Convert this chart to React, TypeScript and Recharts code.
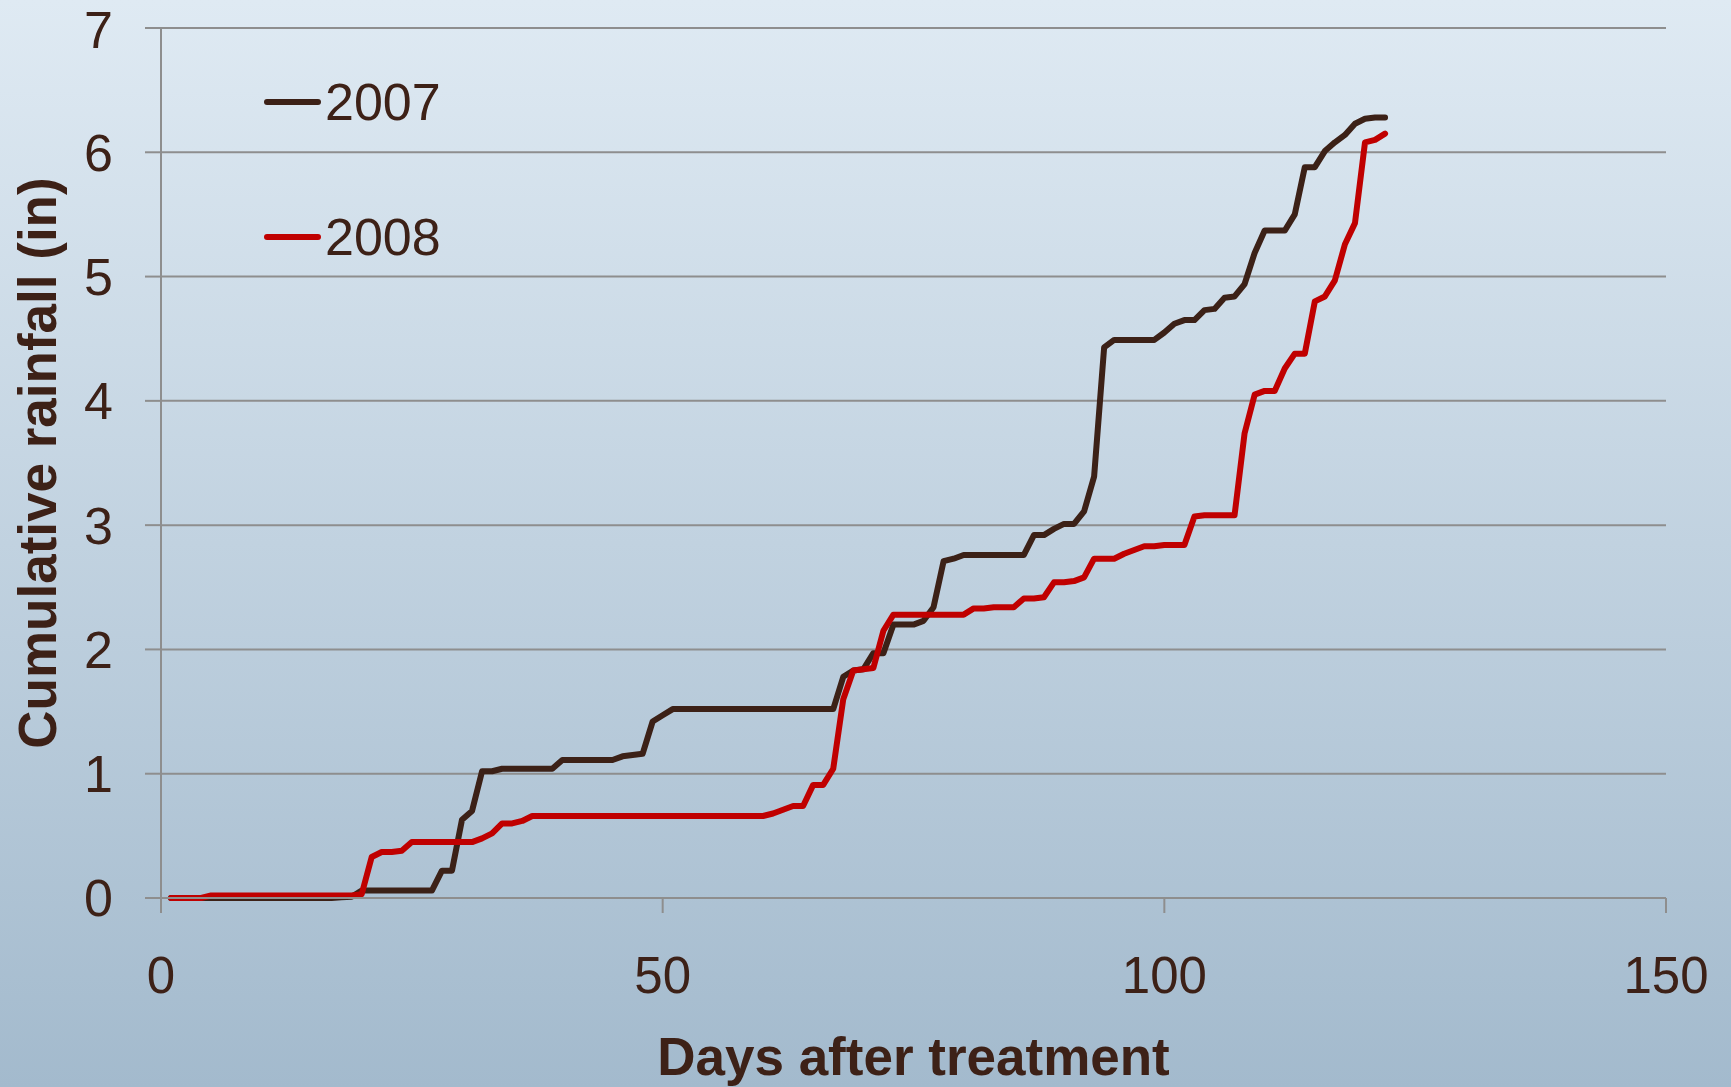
import React from 'react';
import { LineChart, Line, XAxis, YAxis, CartesianGrid, Legend } from 'recharts';

const days: number[] = Array.from({ length: 122 }, (_, i) => i + 1);

const rain2007: number[] = [
  0, 0, 0, 0, 0, 0, 0, 0, 0, 0,
  0, 0, 0, 0, 0, 0, 0, 0.005, 0.01, 0.06,
  0.06, 0.06, 0.06, 0.06, 0.06, 0.06, 0.06, 0.22, 0.22, 0.63,
  0.70, 1.02, 1.02, 1.04, 1.04, 1.04, 1.04, 1.04, 1.04, 1.11,
  1.11, 1.11, 1.11, 1.11, 1.11, 1.14, 1.15, 1.16, 1.42, 1.47,
  1.52, 1.52, 1.52, 1.52, 1.52, 1.52, 1.52, 1.52, 1.52, 1.52,
  1.52, 1.52, 1.52, 1.52, 1.52, 1.52, 1.52, 1.78, 1.83, 1.84,
  1.97, 1.97, 2.20, 2.20, 2.20, 2.23, 2.34, 2.71, 2.73, 2.76,
  2.76, 2.76, 2.76, 2.76, 2.76, 2.76, 2.92, 2.92, 2.97, 3.01,
  3.01, 3.11, 3.39, 4.43, 4.49, 4.49, 4.49, 4.49, 4.49, 4.55,
  4.62, 4.65, 4.65, 4.73, 4.74, 4.83, 4.84, 4.94, 5.19, 5.37,
  5.37, 5.37, 5.50, 5.88, 5.88, 6.01, 6.08, 6.14, 6.23, 6.27,
  6.28, 6.28,
];

const rain2008: number[] = [
  0, 0, 0, 0, 0.02, 0.02, 0.02, 0.02, 0.02, 0.02,
  0.02, 0.02, 0.02, 0.02, 0.02, 0.02, 0.02, 0.02, 0.02, 0.03,
  0.33, 0.37, 0.37, 0.38, 0.45, 0.45, 0.45, 0.45, 0.45, 0.45,
  0.45, 0.48, 0.52, 0.60, 0.60, 0.62, 0.66, 0.66, 0.66, 0.66,
  0.66, 0.66, 0.66, 0.66, 0.66, 0.66, 0.66, 0.66, 0.66, 0.66,
  0.66, 0.66, 0.66, 0.66, 0.66, 0.66, 0.66, 0.66, 0.66, 0.66,
  0.68, 0.71, 0.74, 0.74, 0.91, 0.91, 1.04, 1.60, 1.83, 1.84,
  1.85, 2.15, 2.28, 2.28, 2.28, 2.28, 2.28, 2.28, 2.28, 2.28,
  2.33, 2.33, 2.34, 2.34, 2.34, 2.41, 2.41, 2.42, 2.54, 2.54,
  2.55, 2.58, 2.73, 2.73, 2.73, 2.77, 2.80, 2.83, 2.83, 2.84,
  2.84, 2.84, 3.07, 3.08, 3.08, 3.08, 3.08, 3.74, 4.05, 4.08,
  4.08, 4.26, 4.38, 4.38, 4.80, 4.84, 4.97, 5.26, 5.43, 6.08,
  6.10, 6.15,
];

const xTicks: number[] = [0, 50, 100, 150];
const yTicks: number[] = [0, 1, 2, 3, 4, 5, 6, 7];
const seriesNames: string[] = ['2007', '2008'];

const data = days.map((d, i) => ({ day: d, y2007: rain2007[i], y2008: rain2008[i] }));

const FONT = '"Liberation Sans", Arial, sans-serif';
const TEXT = '#3d2117';
const GRID = '#8e8e8e';

const XLabel = (props: any) => {
  const vb = props.viewBox || {};
  return (
    <text
      x={vb.x + vb.width / 2}
      y={vb.y + 177}
      textAnchor="middle"
      fontFamily={FONT}
      fontWeight="bold"
      fontSize={53}
      fill={TEXT}
    >
      Days after treatment
    </text>
  );
};

const YLabel = (props: any) => {
  const vb = props.viewBox || {};
  const cx = 56;
  const cy = vb.y + vb.height / 2;
  return (
    <text
      x={cx}
      y={cy}
      transform={`rotate(-90, ${cx}, ${cy})`}
      textAnchor="middle"
      fontFamily={FONT}
      fontWeight="bold"
      fontSize={53}
      fill={TEXT}
    >
      Cumulative rainfall (in)
    </text>
  );
};

const LegendContent = (props: any) => {
  const payload = props.payload || [];
  return (
    <div style={{ position: 'relative', width: 300, height: 280 }}>
      {payload.map((p: any, i: number) => (
        <div
          key={i}
          style={{
            position: 'absolute',
            left: 0,
            top: i * 135,
            height: 64,
            display: 'flex',
            alignItems: 'center',
          }}
        >
          <div style={{ width: 57, height: 6, borderRadius: 3, background: p.color }} />
          <span
            style={{
              marginLeft: 4,
              fontFamily: FONT,
              fontSize: 52,
              lineHeight: 1,
              color: TEXT,
            }}
          >
            {p.value}
          </span>
        </div>
      ))}
    </div>
  );
};

export default function App() {
  return (
    <div
      style={{
        position: 'absolute',
        left: 0,
        top: 0,
        width: 1731,
        height: 1087,
        background: 'linear-gradient(to bottom, #dfeaf3 0%, #a3bacd 100%)',
        overflow: 'hidden',
      }}
    >
      <LineChart
        width={1731}
        height={1087}
        data={data}
        margin={{ top: 28, right: 65, bottom: 39, left: 0 }}
      >
        <CartesianGrid horizontal={true} vertical={false} stroke={GRID} strokeWidth={2} />
        <XAxis
          dataKey="day"
          type="number"
          domain={[0, 150]}
          ticks={xTicks}
          height={150}
          tickSize={15}
          tickMargin={44}
          stroke={GRID}
          strokeWidth={2}
          tick={{ fontSize: 51, fill: TEXT, fontFamily: FONT }}
          label={<XLabel />}
        />
        <YAxis
          type="number"
          domain={[0, 7]}
          ticks={yTicks}
          width={161}
          tickSize={16}
          tickMargin={32}
          stroke={GRID}
          strokeWidth={2}
          tick={{ fontSize: 52, fill: TEXT, fontFamily: FONT }}
          label={<YLabel />}
        />
        <Legend
          layout="vertical"
          align="center"
          verticalAlign="middle"
          content={<LegendContent />}
          wrapperStyle={{ left: 264, top: 70, width: 300, height: 280 }}
        />
        <Line
          type="linear"
          dataKey="y2007"
          name={seriesNames[0]}
          stroke="#3c2117"
          strokeWidth={6}
          strokeLinecap="round"
          strokeLinejoin="round"
          dot={false}
          activeDot={false}
          isAnimationActive={false}
        />
        <Line
          type="linear"
          dataKey="y2008"
          name={seriesNames[1]}
          stroke="#c00000"
          strokeWidth={6}
          strokeLinecap="round"
          strokeLinejoin="round"
          dot={false}
          activeDot={false}
          isAnimationActive={false}
        />
      </LineChart>
    </div>
  );
}
